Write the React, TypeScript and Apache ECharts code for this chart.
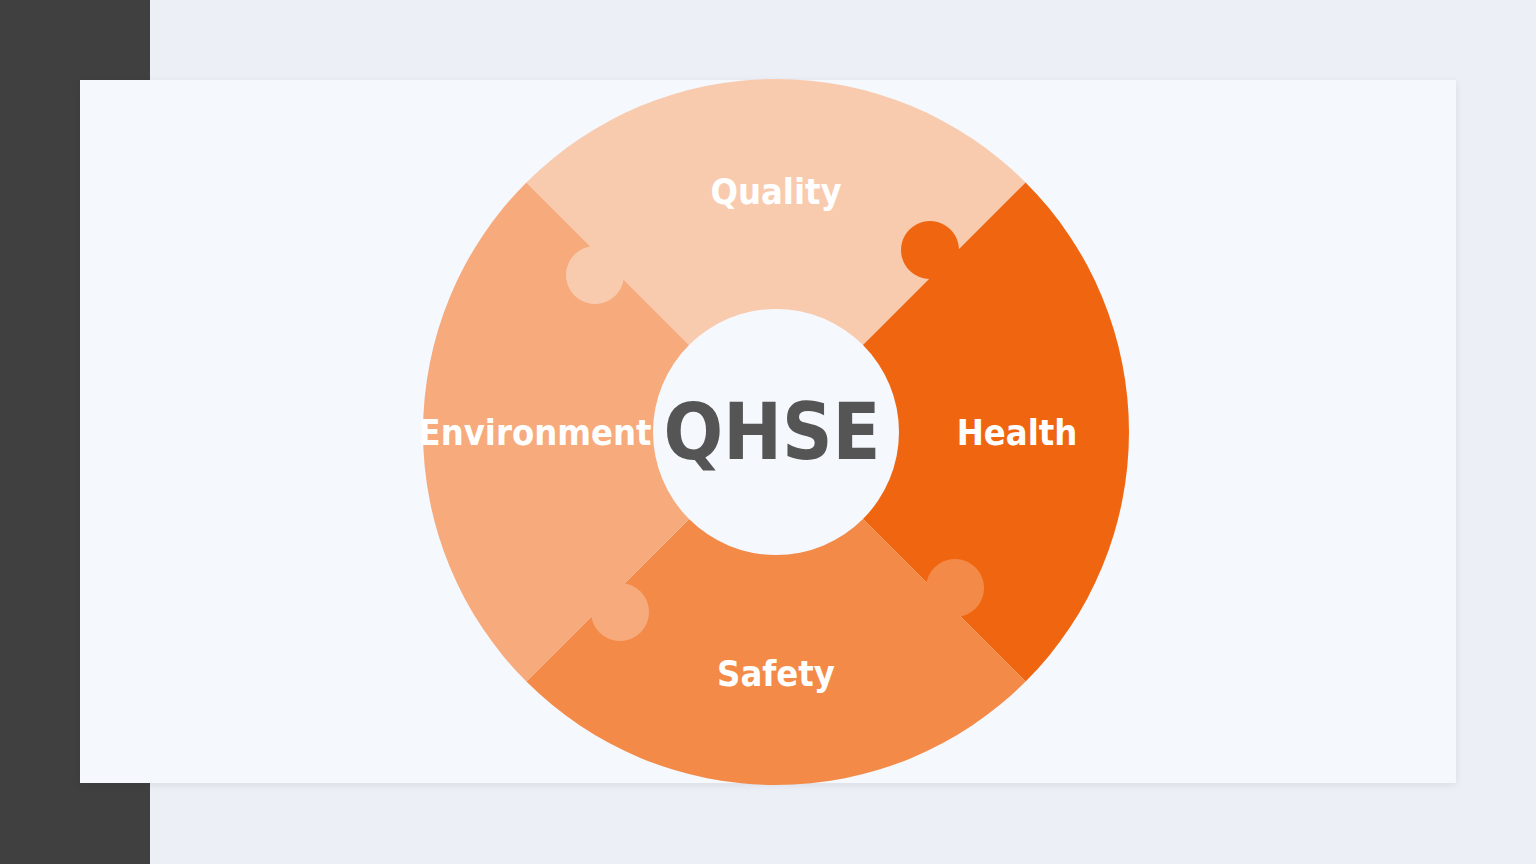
import { useEffect, useRef } from "react";
import * as echarts from "echarts";

const categories = ["Quality", "Health", "Safety", "Environment"];
const values = [1, 1, 1, 1];
const colors = ["#f9cbae", "#f06610", "#f38a48", "#f7aa7b"];
const centerLabel = "QHSE";

// puzzle knobs: offset from centre, and which piece owns them
const knobs = [
  { dx: 154, dy: -182, owner: 1 },
  { dx: -181, dy: -157, owner: 0 },
  { dx: -156, dy: 180, owner: 3 },
  { dx: 179, dy: 156, owner: 2 },
];

const CX = 776;
const CY = 432;

export default function App() {
  const chartRef = useRef<HTMLDivElement>(null);

  useEffect(() => {
    document.body.style.margin = "0";
    if (!chartRef.current) return;
    const chart = echarts.init(chartRef.current, null, { renderer: "svg" });

    chart.setOption({
      animation: false,
      backgroundColor: "transparent",
      series: [
        {
          type: "pie",
          center: [CX, CY],
          radius: [123, 353],
          startAngle: 135,
          clockwise: true,
          silent: true,
          label: {
            show: true,
            position: "inside",
            color: "#ffffff",
            fontFamily: "DejaVu Sans Condensed",
            fontWeight: "bold",
            fontSize: 36,
            formatter: "{b}",
          },
          labelLine: { show: false },
          itemStyle: { borderWidth: 0 },
          data: categories.map((name, i) => ({
            name,
            value: values[i],
            itemStyle: { color: colors[i] },
          })),
        },
      ],
      graphic: [
        ...knobs.map((k) => ({
          type: "circle",
          z: 10,
          shape: { cx: CX + k.dx, cy: CY + k.dy, r: 29 },
          style: { fill: colors[k.owner] },
        })),
        {
          type: "text",
          z: 20,
          x: CX - 4,
          y: CY,
          style: {
            text: centerLabel,
            fill: "#555555",
            fontFamily: "DejaVu Sans Condensed",
            fontWeight: "bold",
            fontSize: 78,
            align: "center",
            verticalAlign: "middle",
          },
        },
      ],
    });

    return () => chart.dispose();
  }, []);

  return (
    <div style={{ position: "relative", width: 1536, height: 864, background: "#eceff6", overflow: "hidden" }}>
      <div style={{ position: "absolute", left: 0, top: 0, width: 150, height: 864, background: "#404040" }} />
      <div
        style={{
          position: "absolute",
          left: 80,
          top: 80,
          width: 1376,
          height: 703,
          background: "#f5f8fd",
          boxShadow: "0 2px 8px rgba(0,0,0,0.08)",
        }}
      />
      <div ref={chartRef} style={{ position: "absolute", left: 0, top: 0, width: 1536, height: 864 }} />
    </div>
  );
}
